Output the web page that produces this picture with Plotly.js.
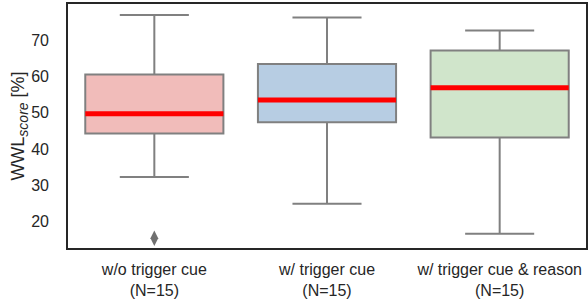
<!DOCTYPE html>
<html><head><meta charset="utf-8">
<script src="https://cdn.plot.ly/plotly-3.0.1.min.js"></script>
<style>html,body{margin:0;padding:0;background:#fff}#chart{width:588px;height:305px}</style>
</head><body><div id="chart"></div>
<script>
const categories = ["w/o trigger cue<br>(N=15)", "w/ trigger cue<br>(N=15)", "w/ trigger cue & reason<br>(N=15)"];
const lowerWhisker = [32.3, 25.0, 16.7];
const q1Values = [44.3, 47.4, 43.2];
const medianValues = [49.7, 53.5, 56.9];
const q3Values = [60.5, 63.4, 67.1];
const upperWhisker = [76.9, 76.2, 72.6];
const outlierGroup = [0];
const outlierValues = [15.5];
const fillColors = ["#f1bcba", "#b7cde3", "#d0e5cb"];
const yTicks = [20, 30, 40, 50, 60, 70];

const pos = categories.map((c, i) => i);
const boxW = 0.8;

const traces = pos.map((p, i) => ({
  type: "box",
  x: [p],
  q1: [q1Values[i]], median: [medianValues[i]], q3: [q3Values[i]],
  lowerfence: [lowerWhisker[i]], upperfence: [upperWhisker[i]],
  width: boxW, whiskerwidth: 0.5,
  fillcolor: fillColors[i],
  line: {color: "#808080", width: 2},
  boxpoints: false, hoverinfo: "skip", showlegend: false
}));

const mx = [], my = [];
pos.forEach((p, i) => { mx.push(p - boxW/2, p + boxW/2, null); my.push(medianValues[i], medianValues[i], null); });
traces.push({type: "scatter", mode: "lines", x: mx, y: my, line: {color: "#ff0000", width: 5}, showlegend: false, hoverinfo: "skip"});
traces.push({type: "scatter", mode: "markers", x: outlierGroup.map(g => pos[g]), y: outlierValues,
  marker: {symbol: "diamond-tall", size: 11, color: "#707070"}, showlegend: false, hoverinfo: "skip"});

const layout = {
  width: 588, height: 305,
  margin: {l: 68, r: 2, t: 4, b: 57},
  paper_bgcolor: "#fff", plot_bgcolor: "#fff",
  font: {family: "Liberation Sans, Arial, sans-serif", size: 16, color: "#262626"},
  xaxis: {range: [-0.5, 2.5], tickvals: pos, ticktext: categories, showgrid: false, zeroline: false,
    showline: true, mirror: true, linecolor: "#262626", linewidth: 1.8, ticks: "", ticklabelstandoff: 6},
  yaxis: {range: [12.8, 79.9], tickvals: yTicks, showgrid: false, zeroline: false,
    showline: true, mirror: true, linecolor: "#262626", linewidth: 1.8, ticks: "", ticklabelstandoff: 14,
    title: {text: "WWL<sub><span style='font-size:14px'><i>score</i></span></sub> [%]", font: {size: 18}, standoff: 0}},
  showlegend: false
};
Plotly.newPlot("chart", traces, layout, {displayModeBar: false, staticPlot: true});
</script></body></html>
